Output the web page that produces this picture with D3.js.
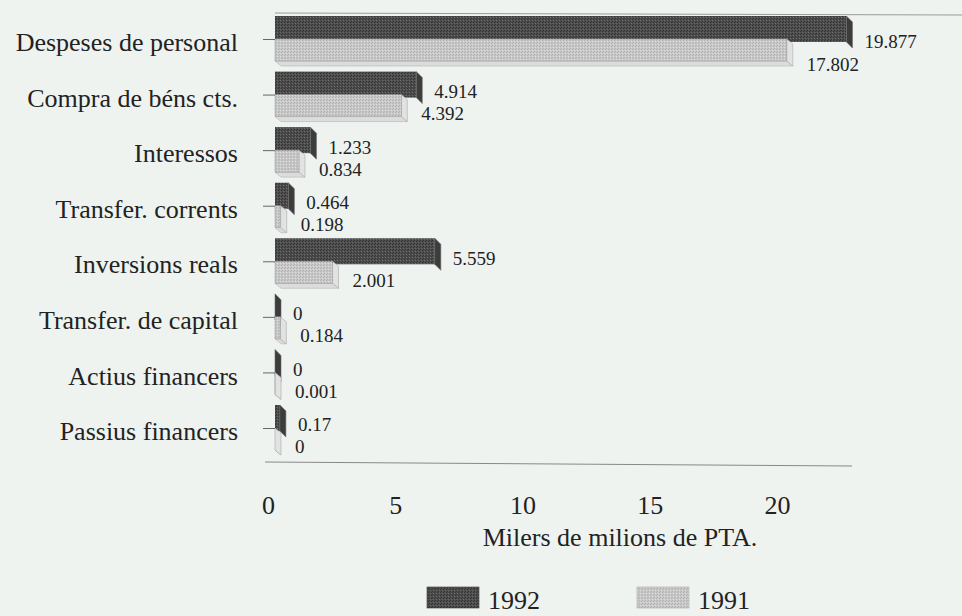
<!DOCTYPE html>
<html><head><meta charset="utf-8">
<script src="https://cdn.jsdelivr.net/npm/d3@7"></script>
<style>
html,body{margin:0;padding:0;background:#eef3f0;}
svg{display:block;}
text{font-family:"Liberation Serif","Times New Roman",serif;fill:#222;}
</style></head><body>
<svg id="chart" width="962" height="616"></svg>
<script>
const categories = ["Despeses de personal","Compra de béns cts.","Interessos","Transfer. corrents","Inversions reals","Transfer. de capital","Actius financers","Passius financers"];
const values1992 = [19.877, 4.914, 1.233, 0.464, 5.559, 0, 0, 0.17];
const values1991 = [17.802, 4.392, 0.834, 0.198, 2.001, 0.184, 0.001, 0];
const labels1992 = ["19.877","4.914","1.233","0.464","5.559","0","0","0.17"];
const labels1991 = ["17.802","4.392","0.834","0.198","2.001","0.184","0.001","0"];
const xTicks = [0,5,10,15,20];
const seriesNames = ["1992","1991"];

const svg = d3.select("#chart");
const D = 6; // depth offset of 3D bars

// halftone-like textures
const defs = svg.append("defs");
function pattern(id, base, a, b){
  const p = defs.append("pattern").attr("id",id).attr("width",3).attr("height",3)
    .attr("patternUnits","userSpaceOnUse");
  p.append("rect").attr("width",3).attr("height",3).attr("fill",base);
  p.append("rect").attr("x",0).attr("y",0).attr("width",1).attr("height",1).attr("fill",a);
  p.append("rect").attr("x",2).attr("y",1).attr("width",1).attr("height",1).attr("fill",a);
  p.append("rect").attr("x",1).attr("y",2).attr("width",1).attr("height",1).attr("fill",b);
}
pattern("darkTex","#4e4e4e","#333","#6a6a6a");
pattern("lightTex","#c8c8c8","#b2b2b2","#dedede");

// value scale for the bars
const x = d3.scaleLinear().domain([0,20]).range([275,850]);
// front (foreshortened) scale used for axis labels
const xFront = d3.scaleLinear().domain([0,20]).range([268,777]);
// category band scale
const y = d3.scalePoint().domain(categories).range([39,428]);

// back frame top line
svg.append("line").attr("x1",275).attr("x2",962).attr("y1",13).attr("y2",15)
  .attr("stroke","#9a9a9a").attr("stroke-width",1);

const g = svg.append("g");
categories.forEach((c,i)=>{
  const t = y(c);
  // 1992 dark bar (behind)
  const v2 = values1992[i], xe2 = x(v2);
  g.append("rect").attr("x",x(0)).attr("y",t-23).attr("width",xe2-x(0)).attr("height",26)
    .attr("fill","url(#darkTex)");
  g.append("path").attr("d",`M${xe2},${t-23}L${xe2+D},${t-23+D}L${xe2+D},${t+3+D}L${xe2},${t+3}Z`)
    .attr("fill","#3c3c3c").attr("stroke","#6a6a6a").attr("stroke-width",0.6);
  // 1991 light bar (front)
  const v1 = values1991[i], xe1 = x(v1);
  g.append("path").attr("d",`M${x(0)},${t+22}L${xe1},${t+22}L${xe1+D},${t+22+D-1}L${x(0)+D},${t+22+D-1}Z`)
    .attr("fill","#dcdcdc").attr("stroke","#aaa").attr("stroke-width",0.5);
  g.append("path").attr("d",`M${xe1},${t}L${xe1+D},${t+D-1}L${xe1+D},${t+22+D-1}L${xe1},${t+22}Z`)
    .attr("fill","#e2e2e2").attr("stroke","#a8a8a8").attr("stroke-width",0.6);
  g.append("rect").attr("x",x(0)).attr("y",t).attr("width",xe1-x(0)).attr("height",22)
    .attr("fill","url(#lightTex)").attr("stroke","#9c9c9c").attr("stroke-width",0.5);
  // value labels
  g.append("text").attr("x",xe2+D+12).attr("y",i===0 ? t+5 : t-1).attr("dominant-baseline","middle")
    .attr("font-size",19).text(labels1992[i]);
  g.append("text").attr("x",xe1+D+14).attr("y",i===0 ? t+28 : t+21).attr("dominant-baseline","middle")
    .attr("font-size",19).text(labels1991[i]);
});

// category ticks and labels
const yAxis = svg.append("g").attr("transform","translate(275,0)")
  .call(d3.axisLeft(y).tickSize(12).tickPadding(25).tickFormat(d=>d));
yAxis.select(".domain").remove();
yAxis.selectAll(".tick line").attr("stroke","#666");
yAxis.selectAll(".tick text").attr("font-size",26).attr("font-family","Liberation Serif, serif")
  .attr("fill","#222").attr("dy","0.45em");

// x axis line and ticks
const axisY = 464;
svg.append("line").attr("x1",265).attr("x2",852).attr("y1",axisY-2).attr("y2",axisY+2)
  .attr("stroke","#888").attr("stroke-width",1);
const xa = svg.append("g").attr("transform",`translate(0,${axisY})`)
  .call(d3.axisBottom(xFront).tickValues(xTicks).tickSize(0).tickPadding(32).tickFormat(d3.format("d")));
xa.select(".domain").remove();
xa.selectAll(".tick text").attr("font-size",26).attr("font-family","Liberation Serif, serif").attr("fill","#222");

svg.append("text").attr("x",620).attr("y",546).attr("text-anchor","middle")
  .attr("font-size",26).text("Milers de milions de PTA.");

// legend
const legendX = [427,637];
const legendFill = ["url(#darkTex)","url(#lightTex)"];
seriesNames.forEach((s,i)=>{
  svg.append("rect").attr("x",legendX[i]).attr("y",587).attr("width",52).attr("height",21)
    .attr("fill",legendFill[i]).attr("stroke",i? "#aaa":"#333").attr("stroke-width",0.6);
  svg.append("text").attr("x",legendX[i]+61).attr("y",609).attr("font-size",26).text(s);
});
</script>
</body></html>
